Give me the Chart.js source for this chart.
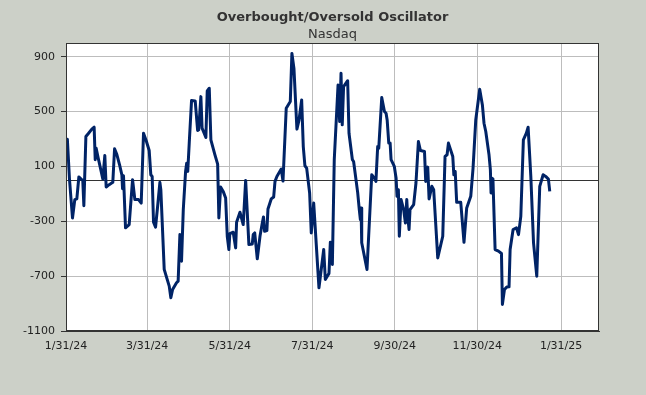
<!DOCTYPE html>
<html>
<head>
<meta charset="utf-8" />
<title>Overbought/Oversold Oscillator</title>
<script src="https://cdn.jsdelivr.net/npm/chart.js"></script>
<style>
  body, html { margin: 0; padding: 0; background-color: #ccd0c8; }
  #wrap { width: 646px; height: 395px; }
</style>
</head>
<body>
<div id="wrap"><canvas id="myChart" width="646" height="395"></canvas></div>
<script>
// x = days after 1/31/24, y = oscillator reading
const days = [
  0, 1, 2.6, 4.8, 6.5, 8, 9.5, 11.2, 12.4, 13.2, 14.7, 16.4, 19.1, 20.8, 21.6, 22.3, 23.8, 26, 27.2, 28.7,
  29.7, 31.9, 34.6, 35.9, 37.6, 39.6, 41.3, 41.8, 42.5, 44, 46.7, 49.2, 50.9, 53.6, 55.6, 57.3, 59.3, 61.5, 62.7, 63.7,
  64.7, 66.2, 67.9, 69.4, 70.1, 72.6, 74.8, 76.3, 77.5, 78.8, 81.7, 82.9, 84.2, 85.4, 86.7, 88.4, 89.2, 90, 91.1, 92.8,
  95.5, 97.3, 98.1, 99.7, 100.6, 101.9, 103.4, 104.4, 105.9, 107.1, 110.1, 112.1, 113, 114.3, 116.2, 118, 119.2, 120.4, 121.1, 123.6,
  125.4, 126.1, 128.6, 131, 132.8, 135.2, 137.7, 138.4, 139.5, 141.4, 143.4, 145.1, 146, 146.8, 148.5, 149.3, 151.7, 153.5, 154.5, 155.9,
  159.1, 160.4, 162.8, 165.8, 167, 168.5, 170.7, 172.2, 174.2, 175.4, 176.6, 177.9, 180.1, 181.3, 183.1, 187, 190.5, 191.7, 194.4, 195.4,
  196.9, 198.3, 201.1, 202.3, 203.3, 204.2, 205.2, 208.2, 209.2, 211.7, 212.6, 215.6, 216.8, 217.6, 218.1, 218.6, 222.5, 226, 227.9, 229.1,
  230.4, 231.2, 233.4, 235.4, 236.6, 237.4, 238.6, 239.6, 240.3, 242.7, 244, 244.7, 245.7, 246.4, 247.7, 249.6, 250.9, 251.9, 252.6, 253.6,
  254.3, 257, 258.7, 260.5, 262, 265, 265.9, 267.4, 268.4, 270.4, 271.8, 274.8, 278.5, 280.2, 281.7, 282.7, 284.7, 285.9, 286.7, 287.7,
  288.8, 291.8, 294.2, 296.2, 299.2, 300.9, 302.9, 305.8, 307.8, 309, 310.3, 312.7, 313.7, 314.2, 314.7, 315.6, 317.2, 319.7, 321.9, 322.6,
  324.1, 325.8, 327.5, 328.3, 330.5, 333, 334.5, 336.2, 338.1, 340.3, 341.6, 343.6, 345.6, 348, 350.2, 352.7, 354.6, 356.6, 357.6
];
const values = [
  190, 299, 3, -276, -142, -137, 23, 8, -2, -186, 318, 338, 372, 386, 149, 233, 161, 64, 8, 180,
  -50, -33, -16, 229, 186, 112, 39, -63, 32, -348, -324, 3, -142, -142, -167, 342, 287, 216, 39, 27,
  -307, -343, -174, -16, -69, -651, -724, -773, -857, -797, -748, -736, -397, -591, -215, 64, 124, 64, 270, 580,
  578, 362, 367, 609, 379, 347, 311, 650, 670, 294, 185, 117, -276, -50, -82, -130, -409, -506, -390, -380,
  -494, -307, -234, -324, -2, -470, -465, -397, -385, -574, -409, -312, -268, -373, -368, -210, -137, -123, -9, 27,
  81, -7, 524, 573, 924, 815, 372, 435, 585, 245, 105, 88, -94, -385, -167, -785, -506, -724, -680, -453,
  -615, 149, 694, 427, 779, 403, 682, 725, 342, 149, 136, -89, -215, -288, -203, -457, -651, 39, 15, -9,
  245, 233, 602, 500, 488, 439, 270, 270, 149, 100, 15, -118, -70, -409, -142, -215, -312, -142, -264, -360,
  -215, -179, -21, 282, 216, 209, -9, 95, -137, -45, -70, -567, -409, 173, 185, 270, 209, 173, 39, 64,
  -162, -162, -453, -203, -118, 88, 439, 662, 548, 415, 355, 185, 76, -94, 15, 8, -506, -518, -535, -906,
  -797, -780, -778, -506, -360, -348, -397, -264, 294, 342, 386, 27, -457, -700, -45, 39, 27, 8, -82
];
const tickDays = [0, 60, 121, 182, 243, 304, 366];
const tickLabels = ['1/31/24', '3/31/24', '5/31/24', '7/31/24', '9/30/24', '11/30/24', '1/31/25'];
const yTicks = [-1100, -700, -300, 0, 100, 500, 900];
const chartTitle = 'Overbought/Oversold Oscillator';
const chartSubtitle = 'Nasdaq';

const points = days.map((d, i) => ({ x: d, y: values[i] }));

const tickFont = { family: 'DejaVu Sans', size: 11 };

// white plot area, dark frame, and titles centred over the plot
const plotFrame = {
  id: 'plotFrame',
  beforeDraw(chart) {
    const { ctx, chartArea: a } = chart;
    ctx.save();
    ctx.fillStyle = '#ffffff';
    ctx.fillRect(a.left, a.top, a.right - a.left, a.bottom - a.top);
    ctx.restore();
  },
  afterDraw(chart) {
    const { ctx, chartArea: a } = chart;
    ctx.save();
    ctx.strokeStyle = '#333333';
    ctx.lineWidth = 1;
    ctx.strokeRect(Math.round(a.left) + 0.5, Math.round(a.top) + 0.5,
      Math.round(a.right - a.left) - 1, Math.round(a.bottom - a.top) - 1);

    const cx = (a.left + a.right) / 2;
    ctx.fillStyle = '#333333';
    ctx.textAlign = 'center';
    ctx.textBaseline = 'middle';
    ctx.font = 'bold 13px "DejaVu Sans"';
    ctx.fillText(chartTitle, cx, 18);
    ctx.font = '13px "DejaVu Sans"';
    ctx.fillText(chartSubtitle, cx, 35);
    ctx.restore();
  }
};

new Chart(document.getElementById('myChart'), {
  type: 'line',
  data: {
    datasets: [{
      data: points,
      borderColor: '#002366',
      borderWidth: 3,
      pointRadius: 0,
      tension: 0,
      borderJoinStyle: 'round',
      fill: false
    }]
  },
  options: {
    responsive: false,
    animation: false,
    layout: { padding: { left: 0, right: 47, top: 43, bottom: 0 } },
    scales: {
      x: {
        type: 'linear',
        min: 0,
        max: 394,
        afterBuildTicks: s => { s.ticks = tickDays.map(v => ({ value: v })); },
        afterFit: s => { s.height = 64; },
        ticks: {
          autoSkip: false,
          maxRotation: 0,
          padding: 9,
          color: '#222222',
          font: tickFont,
          callback: v => tickLabels[tickDays.indexOf(v)]
        },
        grid: { color: '#bdbdbd', drawTicks: false },
        border: { color: '#333333' }
      },
      y: {
        min: -1100,
        max: 1000,
        afterBuildTicks: s => { s.ticks = yTicks.map(v => ({ value: v })); },
        afterFit: s => { s.width = 66; },
        ticks: {
          padding: 6,
          color: '#222222',
          font: tickFont,
          callback: v => (v === 0 ? '' : String(v))
        },
        grid: {
          color: c => (c.tick && c.tick.value === 0 ? '#333333' : '#bdbdbd'),
          tickColor: c => (c.tick && c.tick.value === 0 ? 'rgba(0,0,0,0)' : '#333333'),
          tickLength: 5
        },
        border: { color: '#333333' }
      }
    },
    plugins: {
      legend: { display: false },
      tooltip: { enabled: false },
      title: { display: false },
      subtitle: { display: false }
    }
  },
  plugins: [plotFrame]
});
</script>
</body>
</html>
